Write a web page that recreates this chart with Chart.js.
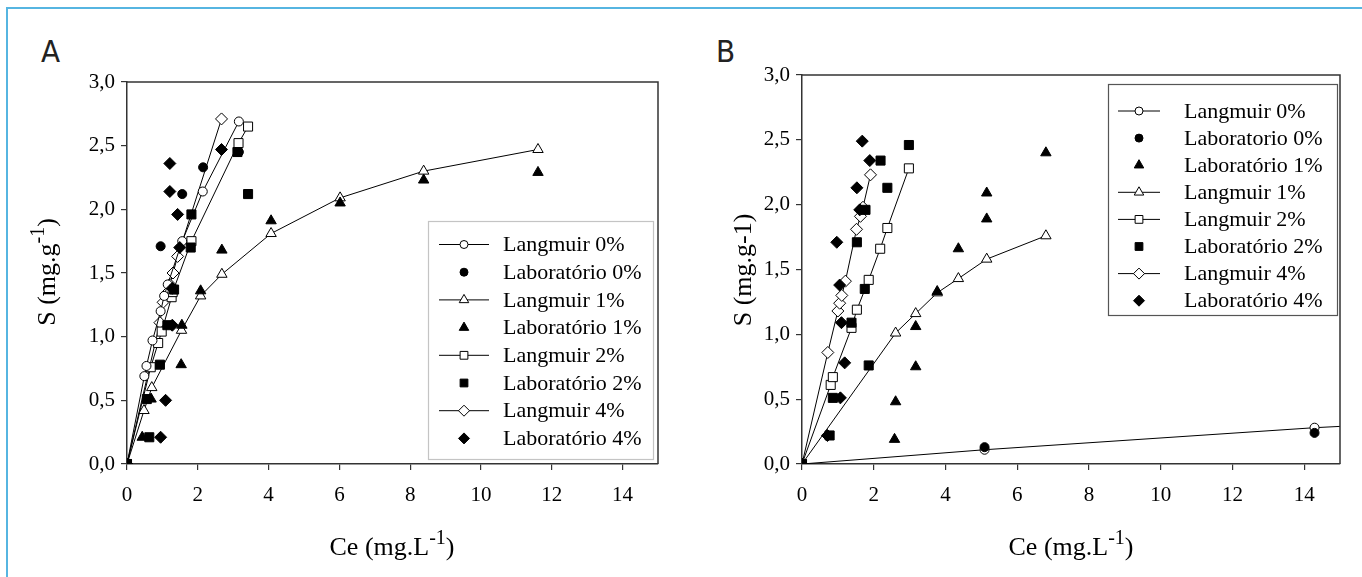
<!DOCTYPE html>
<html><head><meta charset="utf-8">
<script src="https://cdn.jsdelivr.net/npm/chart.js@4.4.1/dist/chart.umd.min.js"></script>
<style>
html,body{margin:0;padding:0;background:#fff;overflow:hidden}
#wrap{position:relative;width:1362px;height:577px}
#frame{position:absolute;left:6px;top:7px;width:1360px;height:600px;border-top:2px solid #56b5e1;border-left:2px solid #56b5e1}
#holder canvas{position:absolute;top:0}
.letter{position:absolute;top:33px;font-family:"Liberation Sans Narrow","DejaVu Sans Condensed",sans-serif;font-size:31px;color:#222}
.pre{position:absolute;left:-5000px;top:0;font-family:'Liberation Serif';font-size:22px}
</style></head>
<body><div id="wrap"><div id="frame"></div>
<div class="letter" style="left:41px">A</div>
<div class="letter" style="left:716px">B</div>
<span class="pre">Langmuir Laboratório 0,5 1% (mg.L)</span>
<div id="holder"></div>
</div>
<script>
// ---------- data ----------
const xTicks = [0,2,4,6,8,10,12,14];
const yTicks = [0,0.5,1,1.5,2,2.5,3];
const aLabels = ['Langmuir 0%','Laboratório 0%','Langmuir 1%','Laboratório 1%','Langmuir 2%','Laboratório 2%','Langmuir 4%','Laboratório 4%'];
const bLabels = ['Langmuir 0%','Laboratorio 0%','Laboratório 1%','Langmuir 1%','Langmuir 2%','Laboratório 2%','Langmuir 4%','Laboratório 4%'];

// Panel A
const aLang0X = [0,0.49,0.55,0.72,0.95,1.05,1.15,1.56,2.14,3.16];
const aLang0Y = [0,0.69,0.77,0.97,1.20,1.32,1.41,1.75,2.14,2.69];
const aLab0X  = [0,0.95,1.56,2.15,3.16];
const aLab0Y  = [0,1.71,2.12,2.33,2.45];
const aLang1X = [0,0.48,0.70,1.54,2.08,2.68,4.07,6.02,8.38,11.61];
const aLang1Y = [0,0.42,0.60,1.05,1.32,1.49,1.81,2.09,2.30,2.47];
const aLab1X  = [0,0.43,0.68,1.53,1.55,2.08,2.68,4.07,6.02,8.38,11.61];
const aLab1Y  = [0,0.21,0.51,0.78,1.09,1.36,1.68,1.91,2.05,2.23,2.29];
const aLang2X = [0,0.67,0.88,0.98,1.26,1.29,1.82,3.15,3.42];
const aLang2Y = [0,0.76,0.95,1.04,1.31,1.35,1.75,2.52,2.65];
const aLab2X  = [0,0.63,0.56,0.93,1.14,1.33,1.80,1.82,3.42,3.12];
const aLab2Y  = [0,0.21,0.51,0.78,1.09,1.37,1.70,1.96,2.12,2.45];
const aLang4X = [0,0.93,1.02,1.12,1.21,1.30,1.43,2.67];
const aLang4Y = [0,1.11,1.27,1.34,1.41,1.50,1.63,2.71];
const aLab4X  = [0,0.95,1.09,1.28,1.28,1.49,1.43,1.21,1.21,2.67];
const aLab4Y  = [0,0.21,0.50,1.09,1.38,1.70,1.96,2.14,2.36,2.47];

// Panel B
const bLang0X = [0,5.09,14.29,15];
const bLang0Y = [0,0.11,0.28,0.29];
const bLab0X  = [0,5.09,14.29];
const bLab0Y  = [0,0.13,0.24];
const bLab1X  = [0,2.58,2.61,3.17,3.17,3.77,4.36,5.15,5.15,6.8];
const bLab1Y  = [0,0.19,0.48,0.75,1.06,1.33,1.66,1.89,2.09,2.40];
const bLang1X = [0,2.61,3.17,3.77,4.36,5.15,6.8];
const bLang1Y = [0,1.01,1.16,1.32,1.43,1.58,1.76];
const bLang2X = [0,0.80,0.86,1.38,1.53,1.86,2.18,2.38,2.98];
const bLang2Y = [0,0.61,0.67,1.05,1.19,1.42,1.66,1.82,2.28];
const bLab2X  = [0,0.77,0.86,1.86,1.38,1.75,1.53,1.77,2.38,2.19,2.98];
const bLab2Y  = [0,0.22,0.51,0.76,1.09,1.35,1.71,1.96,2.13,2.34,2.46];
const bLang4X = [0,0.72,1.00,1.05,1.11,1.21,1.52,1.63,1.70,1.91];
const bLang4Y = [0,0.86,1.18,1.24,1.30,1.41,1.81,1.91,1.98,2.23];
const bLab4X  = [0,0.71,1.07,1.19,1.10,1.05,0.97,1.61,1.53,1.89,1.68];
const bLab4Y  = [0,0.22,0.51,0.78,1.09,1.38,1.71,1.96,2.13,2.34,2.49];

const xTitleParts = [{t:'Ce (mg.L'},{t:'-1',sup:true},{t:')'}];
const aYTitleParts = [{t:'S (mg.g'},{t:'-1',sup:true},{t:')'}];
const bYTitleParts = [{t:'S (mg.g-1)'}];

// ---------- styling helpers ----------
const FAMS = ["'Liberation Serif', serif", "'Liberation Serif', 'Times New Roman', serif", "\"Liberation Serif\", Tinos, serif", "'Liberation Serif', 'Nimbus Roman', serif"];
const FAM = {current: FAMS[0]};
const R = {circle:4.5, triangle:6, rect:6.4, rectRot:6};
const LR = {circle:4, triangle:5.5, rect:5.5, rectRot:5.5};
function pts(xs, ys){ return xs.map((x,i)=>({x:x, y:ys[i]})); }
function lang(label, xs, ys, style, radii){
  return {label, data:pts(xs,ys), showLine:true, borderColor:'#000', borderWidth:1,
    pointStyle:style, pointRadius: radii || R[style], pointHoverRadius: R[style],
    pointBackgroundColor:'#fff', pointBorderColor:'#000', pointBorderWidth:1, order:1, tension:0};
}
function lab(label, xs, ys, style){
  return {label, data:pts(xs,ys), showLine:false, borderColor:'#000', borderWidth:1,
    pointStyle:style, pointRadius:R[style], pointHoverRadius:R[style],
    pointBackgroundColor:'#000', pointBorderColor:'#000', pointBorderWidth:1, order:0};
}

const frameBorder = {
  id:'frameBorder',
  afterDraw(chart){
    const {ctx, chartArea:a} = chart;
    ctx.save(); ctx.strokeStyle='#333'; ctx.lineWidth=1.5;
    ctx.beginPath(); ctx.moveTo(a.left, a.top); ctx.lineTo(a.right, a.top); ctx.lineTo(a.right, a.bottom); ctx.stroke();
    ctx.restore();
  }
};

function drawRich(ctx, parts, cx, cy, rot, size){
  ctx.save(); ctx.translate(cx, cy); ctx.rotate(rot);
  const base = size+'px ' + FAM.current, sup = Math.round(size*0.75)+'px ' + FAM.current;
  let total = 0;
  const w = parts.map(p=>{ ctx.font = p.sup?sup:base; const m = ctx.measureText(p.t).width; total+=m; return m; });
  let x = -total/2; ctx.fillStyle='#000'; ctx.textBaseline='alphabetic'; ctx.textAlign='left';
  parts.forEach((p,i)=>{ ctx.font = p.sup?sup:base; ctx.fillText(p.t, x, p.sup ? size*0.35 - size*0.42 : size*0.35); x += w[i]; });
  ctx.restore();
}

const axisTitles = {
  id:'axisTitles',
  afterDraw(chart, args, o){
    drawRich(chart.ctx, o.x.parts, o.x.cx, o.x.cy, 0, o.size);
    drawRich(chart.ctx, o.y.parts, o.y.cx, o.y.cy, -Math.PI/2, o.size);
  }
};

const boxLegend = {
  id:'boxLegend',
  afterDatasetsDraw(chart, args, o){
    const ctx = chart.ctx; ctx.save();
    ctx.fillStyle='#fff'; ctx.fillRect(o.x, o.y, o.w, o.h);
    ctx.strokeStyle=o.border; ctx.lineWidth=1.2; ctx.strokeRect(o.x+0.5, o.y+0.5, o.w, o.h);
    ctx.font='22px ' + FAM.current; ctx.textBaseline='middle'; ctx.textAlign='left';
    chart.data.datasets.forEach((ds,i)=>{
      const y = o.rowY0 + i*o.rowH;
      const mx = (o.line[0]+o.line[1])/2;
      ctx.strokeStyle='#000'; ctx.lineWidth=1;
      if (ds.showLine){ ctx.beginPath(); ctx.moveTo(o.line[0], y); ctx.lineTo(o.line[1], y); ctx.stroke(); }
      ctx.fillStyle = ds.pointBackgroundColor;
      Chart.helpers.drawPoint(ctx, {pointStyle:ds.pointStyle, radius:LR[ds.pointStyle], rotation:0, borderWidth:1}, mx, y);
      ctx.fillStyle='#000'; ctx.fillText(ds.label, o.textX, y+1);
    });
    ctx.restore();
  }
};

function scales(yWidth, xHeight){
  const tickFont = {family:FAM.current, size:21};
  return {
    x:{type:'linear', min:0, max:15,
      afterBuildTicks: s=>{ s.ticks = xTicks.map(v=>({value:v})); },
      afterFit: s=>{ s.height = xHeight; },
      grid:{display:true, drawOnChartArea:false, drawTicks:true, tickLength:6, color:'#333', lineWidth:1.2},
      border:{display:true, color:'#333', width:1.5},
      ticks:{font:tickFont, color:'#000', padding:13, maxRotation:0, autoSkip:false, callback:v=>String(v)},
      title:{display:false}},
    y:{type:'linear', min:0, max:3,
      afterBuildTicks: s=>{ s.ticks = yTicks.map(v=>({value:v})); },
      afterFit: s=>{ s.width = yWidth; },
      grid:{display:true, drawOnChartArea:false, drawTicks:true, tickLength:6, color:'#333', lineWidth:1.2},
      border:{display:true, color:'#333', width:1.5},
      ticks:{font:tickFont, color:'#000', padding:6, autoSkip:false, callback:v=>v.toFixed(1).replace('.',',')},
      title:{display:false}}
  };
}

Chart.defaults.animation = false;

let charts = [];
function newCanvas(left){
  const c = document.createElement('canvas');
  c.width = 681; c.height = 577; c.style.left = left + 'px';
  document.getElementById('holder').appendChild(c);
  return c;
}
function build(){
  charts.forEach(c=>c.destroy()); charts = [];
  document.getElementById('holder').innerHTML = '';
  Chart.defaults.font.family = FAM.current;
  charts.push(new Chart(newCanvas(0), {
    type:'scatter',
    data:{datasets:[
      lang(aLabels[0], aLang0X, aLang0Y, 'circle'),
      lab(aLabels[1], aLab0X, aLab0Y, 'circle'),
      lang(aLabels[2], aLang1X, aLang1Y, 'triangle'),
      lab(aLabels[3], aLab1X, aLab1Y, 'triangle'),
      lang(aLabels[4], aLang2X, aLang2Y, 'rect'),
      lab(aLabels[5], aLab2X, aLab2Y, 'rect'),
      lang(aLabels[6], aLang4X, aLang4Y, 'rectRot'),
      lab(aLabels[7], aLab4X, aLab4Y, 'rectRot')
    ]},
    options:{responsive:false, devicePixelRatio:1, animation:false,
      layout:{padding:{left:0, right:23, top:82, bottom:0}},
      scales:scales(127, 113),
      plugins:{legend:{display:false}, tooltip:{enabled:false},
        boxLegend:{x:428, y:221, w:225, h:238, rowY0:244.5, rowH:27.7, line:[439,489], textX:503, border:'#c4c4c4'},
        axisTitles:{size:26, x:{parts:xTitleParts, cx:392, cy:546}, y:{parts:aYTitleParts, cx:46, cy:272}}
      }
    },
    plugins:[frameBorder, boxLegend, axisTitles]
  }));
  charts.push(new Chart(newCanvas(681), {
    type:'scatter',
    data:{datasets:[
      lang(bLabels[0], bLang0X, bLang0Y, 'circle', [4.5,4.5,4.5,0]),
      lab(bLabels[1], bLab0X, bLab0Y, 'circle'),
      lab(bLabels[2], bLab1X, bLab1Y, 'triangle'),
      lang(bLabels[3], bLang1X, bLang1Y, 'triangle'),
      lang(bLabels[4], bLang2X, bLang2Y, 'rect'),
      lab(bLabels[5], bLab2X, bLab2Y, 'rect'),
      lang(bLabels[6], bLang4X, bLang4Y, 'rectRot'),
      lab(bLabels[7], bLab4X, bLab4Y, 'rectRot')
    ]},
    options:{responsive:false, devicePixelRatio:1, animation:false,
      layout:{padding:{left:0, right:22, top:75, bottom:0}},
      scales:scales(121, 113),
      plugins:{legend:{display:false}, tooltip:{enabled:false},
        boxLegend:{x:427, y:84, w:229, h:231, rowY0:111, rowH:27.1, line:[437,479], textX:503, border:'#555'},
        axisTitles:{size:26, x:{parts:xTitleParts, cx:390, cy:546}, y:{parts:bYTitleParts, cx:61, cy:270}}
      }
    },
    plugins:[frameBorder, boxLegend, axisTitles]
  }));
}

// serif detection: Times-metric "Laboratório 0%" at 22px is about 138.7px wide
function serifReady(fam){
  const c = document.createElement('canvas');
  const ctx = c.getContext('2d');
  ctx.font = '22px ' + fam;
  const w = ctx.measureText('Laboratório 0%').width;
  return Math.abs(w - 138.7) < 3;
}

build();
let tries = 0, famIdx = 0;
function poll(){
  tries++;
  famIdx = (famIdx + 1) % FAMS.length;
  const fam = FAMS[famIdx];
  if (serifReady(fam) || tries > 40){
    FAM.current = fam;
    build();
    if (tries <= 40 && tries < 4) setTimeout(poll, 120);
    return;
  }
  setTimeout(poll, 50);
}
setTimeout(poll, 30);
</script>
</body></html>
